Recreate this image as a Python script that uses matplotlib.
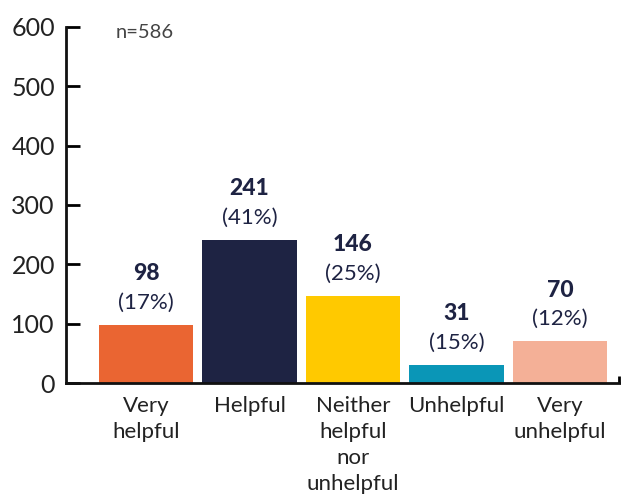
import matplotlib.pyplot as plt

categories = ["Very\nhelpful", "Helpful", "Neither\nhelpful\nnor\nunhelpful", "Unhelpful", "Very\nunhelpful"]
counts = [98, 241, 146, 31, 70]
percents = ["(17%)", "(41%)", "(25%)", "(15%)", "(12%)"]
colors = ["#EA6532", "#1E2343", "#FFC900", "#0A96B7", "#F4B097"]
yticks = [0, 100, 200, 300, 400, 500, 600]

plt.rcParams['font.family'] = ['Lato', 'DejaVu Sans']
navy = "#1E2343"

fig = plt.figure(figsize=(6.21, 4.94), dpi=100)
ax = fig.add_axes([66/621, 1 - 383/494, 554/621, (383 - 27)/494])

x = range(len(categories))
ax.bar(x, counts, width=0.91, color=colors)

for i, (c, p) in enumerate(zip(counts, percents)):
    ax.annotate(p, (i, c), xytext=(0, 16), textcoords="offset points",
                ha="center", va="center", fontsize=16, color=navy)
    ax.annotate(str(c), (i, c), xytext=(0, 37), textcoords="offset points",
                ha="center", va="center", fontsize=16.5, fontweight="black", color=navy)

ax.set_xlim(-0.773, 4.58)
ax.set_ylim(0, 600)
ax.set_yticks(yticks)
ax.set_yticklabels([str(t) for t in yticks], fontsize=18, color="#222222")
ax.set_xticks(list(x))
ax.set_xticklabels(categories, fontsize=16, color="#222222", linespacing=1.38)
# small end tick on the right of the x axis
ax.set_xticks([4.57], minor=True)

ax.tick_params(axis="y", direction="in", length=10, width=2, pad=8)
ax.tick_params(axis="x", which="major", length=0, pad=9)
ax.tick_params(axis="x", which="minor", direction="in", length=5, width=2)

for s in ["top", "right"]:
    ax.spines[s].set_visible(False)
ax.spines["left"].set_linewidth(2)
ax.spines["bottom"].set_linewidth(2)
ax.spines["left"].set_color("#111111")
ax.spines["bottom"].set_color("#111111")

ax.text(0.09, 0.985, "n=586", transform=ax.transAxes, fontsize=14.5,
        color="#444444", va="center", ha="left")

fig.savefig("out.png", dpi=100)
